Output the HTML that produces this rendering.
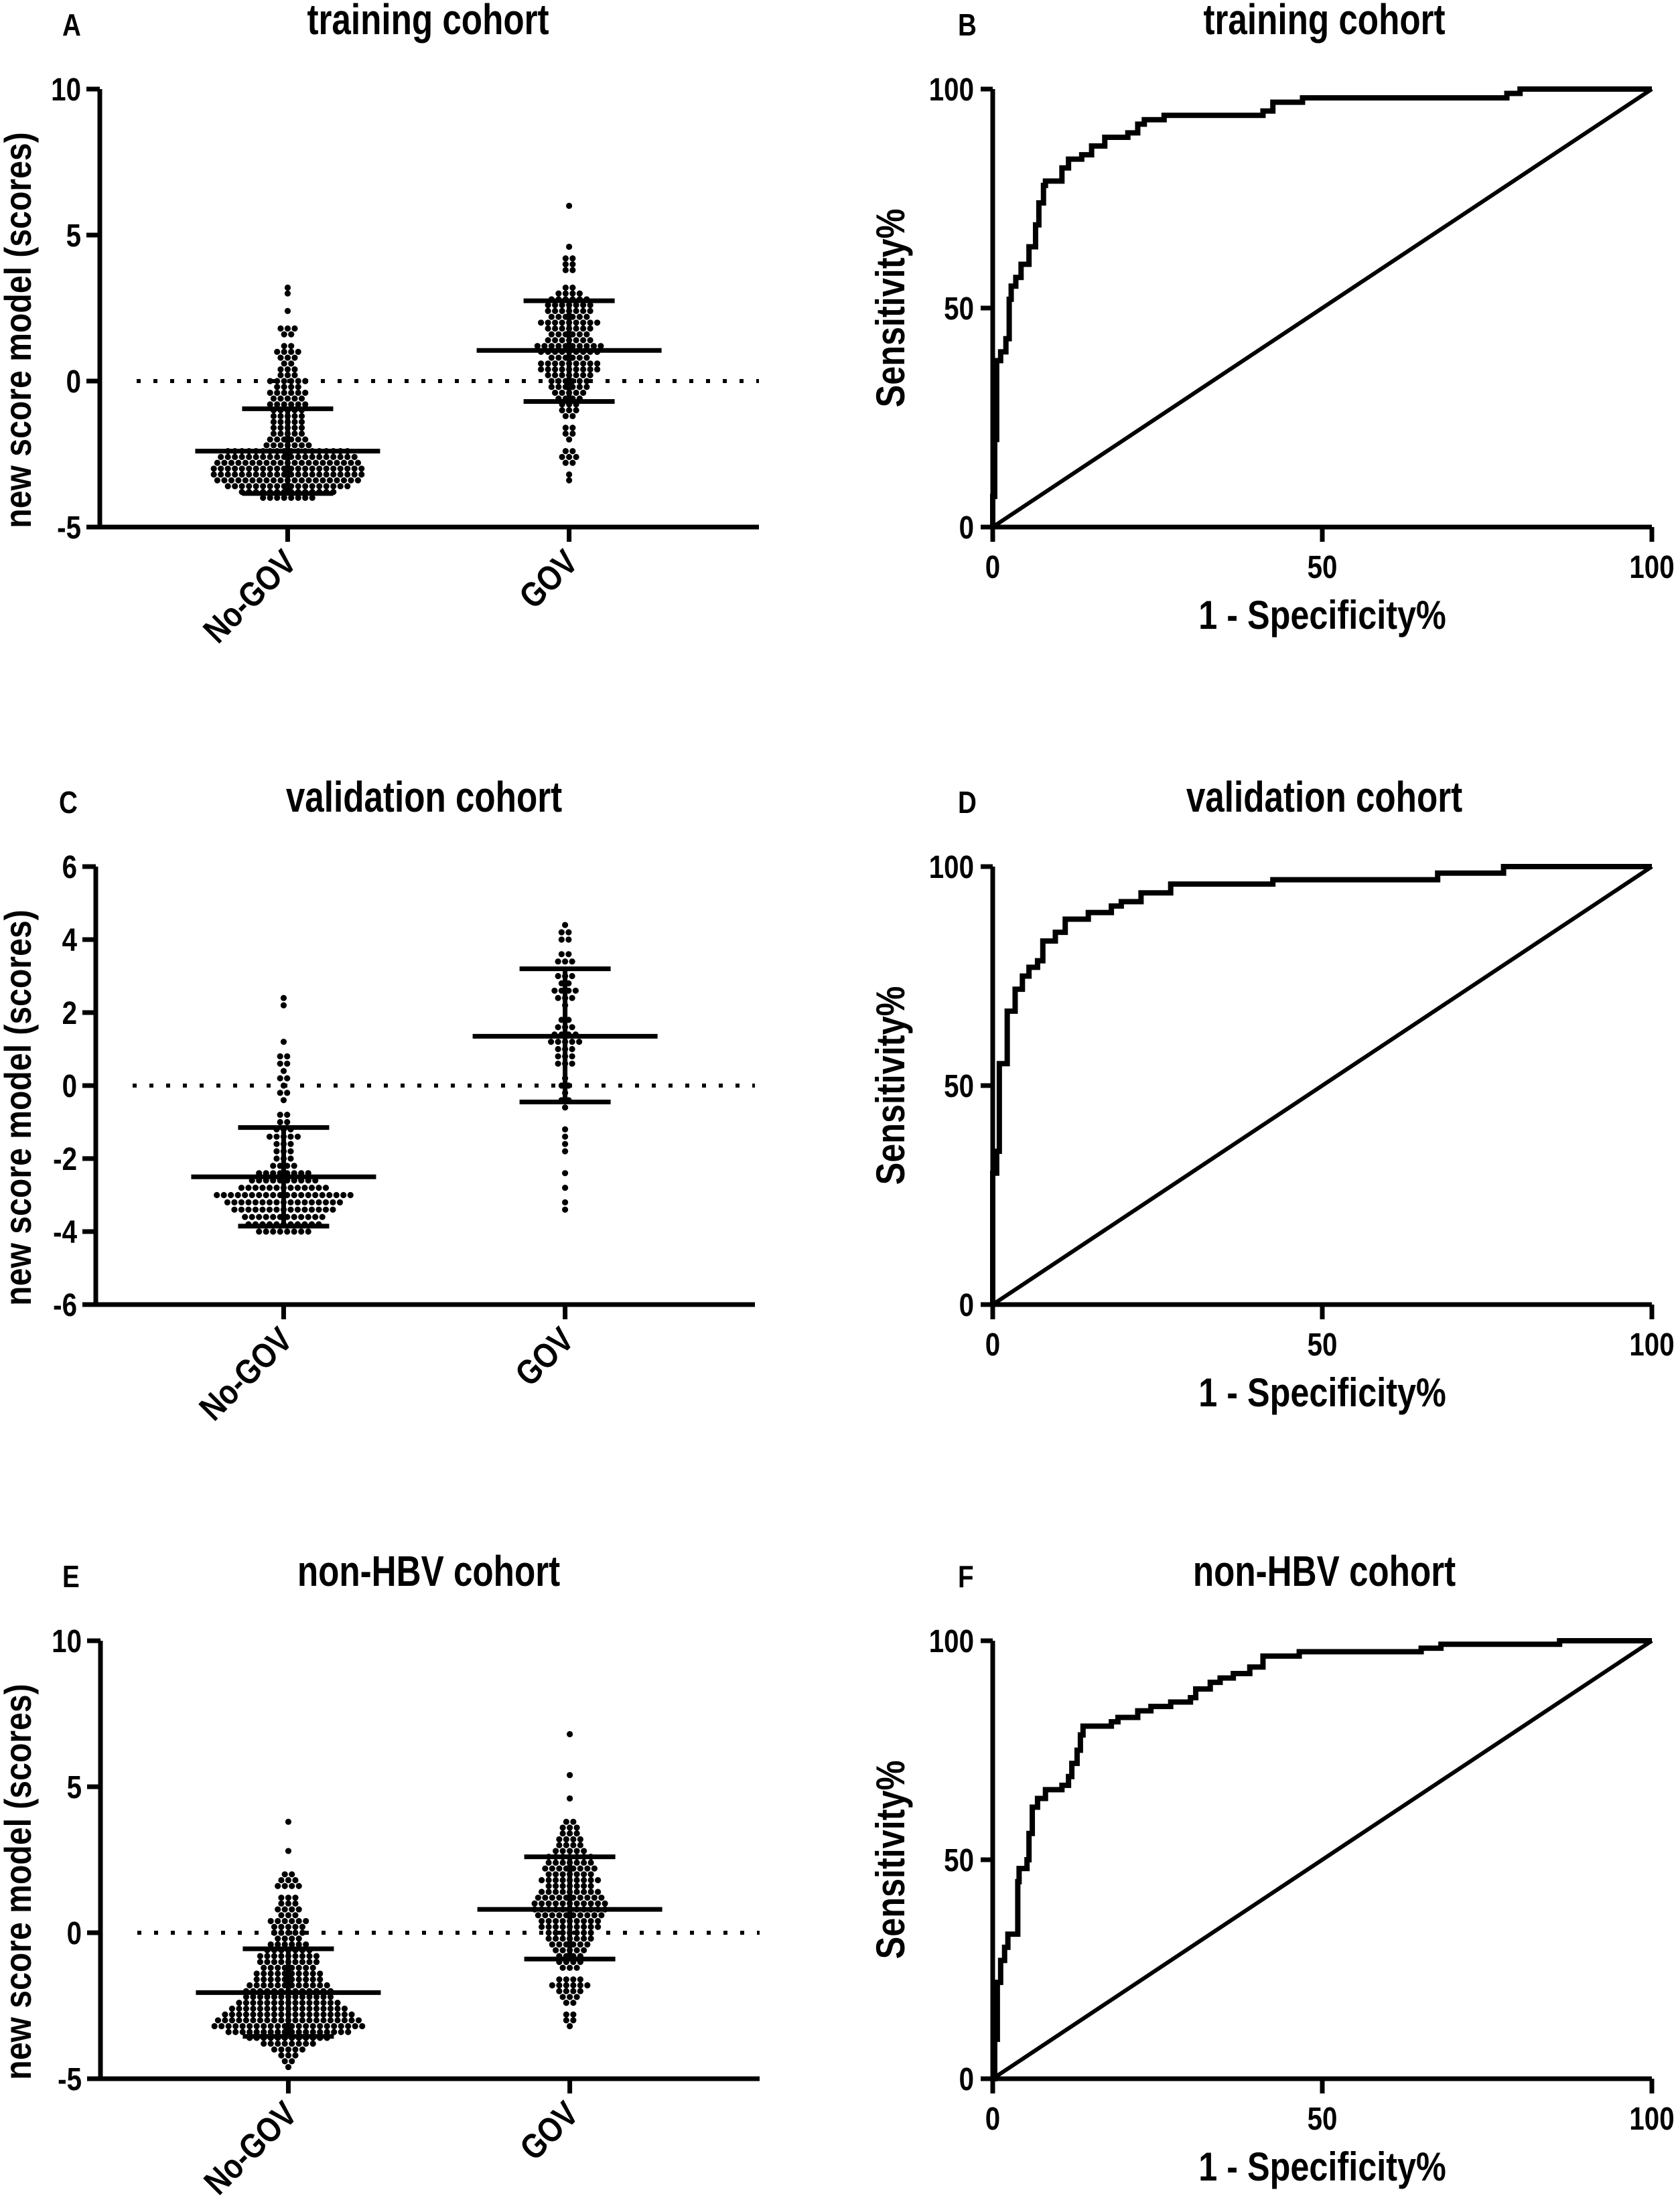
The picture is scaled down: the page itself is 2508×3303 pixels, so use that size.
<!DOCTYPE html>
<html><head><meta charset="utf-8"><style>
html,body{margin:0;padding:0;background:#fff}
svg{display:block}
text{font-family:"Liberation Sans",Arial,sans-serif;font-weight:bold;fill:#000}
</style></head><body>
<svg id="fig" width="2508" height="3303" viewBox="0 0 2508 3303" xmlns="http://www.w3.org/2000/svg"></svg>
<script>
// ---------- scatter data (bin centres, score units) and counts per bin ----------
const aNoBins=[3.2,3.0,2.4,1.8,1.6,1.2,1.0,0.8,0.6,0.4,0.2,0.0,-0.2,-0.4,-0.6,-0.8,-1.0,-1.2,-1.4,-1.6,-1.8,-2.0,-2.2,-2.4,-2.6,-2.8,-3.0,-3.2,-3.4,-3.6,-3.8,-4.0];
const aNoCounts=[1,1,1,3,2,2,4,3,2,3,3,6,4,6,5,6,5,5,5,5,5,6,7,18,20,21,22,22,21,18,14,8];
const aGovBins=[6.0,4.6,4.2,4.0,3.8,3.2,3.0,2.8,2.6,2.4,2.2,2.0,1.8,1.6,1.4,1.2,1.0,0.8,0.6,0.4,0.2,0.0,-0.2,-0.4,-0.6,-0.8,-1.0,-1.2,-1.6,-1.8,-2.0,-2.4,-2.6,-2.8,-3.2,-3.4];
const aGovCounts=[1,1,2,2,2,2,4,6,7,7,6,9,7,6,7,10,9,6,9,9,7,6,6,5,4,3,3,2,2,2,1,2,3,2,1,1];
const aStats={noMean:-2.4,noHi:-0.95,noLo:-3.85,govMean:1.05,govHi:2.75,govLo:-0.7};

const cNoBins=[2.4,2.2,1.2,0.8,0.6,0.4,0.2,0.0,-0.2,-0.4,-0.8,-1.0,-1.2,-1.4,-1.6,-1.8,-2.0,-2.2,-2.4,-2.6,-2.8,-3.0,-3.2,-3.4,-3.6,-3.8,-4.0];
const cNoCounts=[1,1,1,2,2,1,2,1,2,1,2,2,3,5,3,3,3,4,8,10,13,20,17,15,12,11,8];
const cGovBins=[4.4,4.2,4.0,3.6,3.4,3.0,2.8,2.6,2.4,2.2,1.8,1.6,1.4,1.2,1.0,0.8,0.6,0.2,0.0,-0.2,-0.4,-0.6,-1.2,-1.4,-1.6,-1.8,-2.4,-2.8,-3.2,-3.4];
const cGovCounts=[1,2,2,2,3,3,2,4,3,1,2,3,4,5,3,3,3,1,2,1,2,1,1,1,1,1,1,1,1,1];
const cStats={noMean:-2.5,noHi:-1.15,noLo:-3.85,govMean:1.35,govHi:3.2,govLo:-0.45};

const eNoBins=[3.8,2.8,2.0,1.8,1.6,1.2,1.0,0.8,0.6,0.4,0.2,0.0,-0.2,-0.4,-0.6,-0.8,-1.0,-1.2,-1.4,-1.6,-1.8,-2.0,-2.2,-2.4,-2.6,-2.8,-3.0,-3.2,-3.4,-3.6,-3.8,-4.0,-4.2,-4.4,-4.6];
const eNoCounts=[1,1,2,3,4,3,3,4,3,6,5,5,4,6,7,9,9,8,10,10,12,13,13,15,17,19,21,22,18,12,8,5,3,2,1];
const eGovBins=[6.8,5.4,4.6,3.8,3.6,3.4,3.2,3.0,2.8,2.6,2.4,2.2,2.0,1.8,1.6,1.4,1.2,1.0,0.8,0.6,0.4,0.2,0.0,-0.2,-0.4,-0.6,-0.8,-1.0,-1.2,-1.6,-1.8,-2.0,-2.2,-2.4,-2.8,-3.0,-3.2];
const eGovCounts=[1,1,1,2,3,3,4,4,5,7,7,8,7,9,7,9,10,11,11,10,9,9,7,7,6,5,4,4,3,4,6,4,3,2,2,2,1];
const eStats={noMean:-2.05,noHi:-0.55,noLo:-3.55,govMean:0.8,govHi:2.6,govLo:-0.9};

const categories=["No-GOV","GOV"];
const ticksAE=["-5","0","5","10"];
const ticksC=["-6","-4","-2","0","2","4","6"];
const rocTicks=["0","50","100"];

// ---------- ROC data (percent) ----------
const bFpr=[0,0,0.3,0.6,1.2,2,2.5,2.8,3.5,4.3,5.5,6.5,7,7.7,8,10.5,11.5,13.5,15,17,20.5,22,23,26,41,42.5,47,78,80,100];
const bTpr=[0,7,20,38,40,43,52,55,57,60,64,69,74,78,79,82,84,85,87,89,90,92,93,94,95,97,98,99,100,100];
const dFpr=[0,0,0.6,1,2.2,3.4,4.5,5.5,6.8,7.6,9.5,11,14.5,18,19.5,22.5,27,42.5,67.5,77.5,100];
const dTpr=[0,30,35,55,67,72,75,77,78.5,83,85,88,89.5,91,92,94,96,97,98.5,100,100];
const fFpr=[0,0,0.3,0.7,1.2,1.8,2.3,3.8,4,5.2,5.5,6,6.8,8,10.5,11.5,12,12.8,13.3,13.7,18,19,22,24,27,30,30.8,33,34.5,36.5,39,41,46.5,65,68,86,100];
const fTpr=[0,0,9,22,27,30,33,45,48,50,56,62,64,66,67,69,72,75,78.5,80.5,81.5,82.5,84,85,86,87,89,90.5,91.5,92.5,94,96.5,97.5,98.3,99.2,100,100];

const NS="http://www.w3.org/2000/svg";
const svg=document.getElementById('fig');
function mk(tag,attrs,parent){const e=document.createElementNS(NS,tag);for(const k in attrs)e.setAttribute(k,attrs[k]);(parent||svg).appendChild(e);return e;}
// condensed text: positioned via transform, squeezed horizontally
function ctext(str,x,y,size,anchor,rot,sx,parent){
  const t=mk('text',{x:0,y:0,'font-size':size,'text-anchor':anchor,transform:`translate(${x} ${y}) rotate(${rot}) scale(${sx} 1)`},parent);
  t.textContent=str;return t;
}

const PW=984, PH=654, SX=0.84;

function scatterPanel(o){
  const g=mk('g',{});
  
  
  const x0=o.x0,x1=o.x0+PW,yT=o.yTop,yB=o.yTop+PH;
  const ys=v=>yB-(v-o.ymin)/(o.ymax-o.ymin)*PH;
  const xs=i=>x0+PW*(0.285+i*0.427);
  const L=ctext(o.letter,o.letterX,yT-80,46,'start',0,SX,g);
  
  const T=ctext(o.title,x0+490,yT-82,64,'middle',0,0.8,g);
  
  const z=mk('line',{x1:x0+55,x2:x1,y1:ys(0),y2:ys(0),stroke:'#000','stroke-width':6,'stroke-dasharray':'6 19'},g);
  
  const groups=[[o.noBins,o.noCounts],[o.govBins,o.govCounts]];
  groups.forEach((gr,gi)=>{
    const dg=mk('g',{},g);
    
    
    gr[0].forEach((v,bi)=>{
      const n=gr[1][bi];
      for(let j=0;j<n;j++){
        const c=mk('circle',{cx:xs(gi)+(j-(n-1)/2)*10.5,cy:ys(v),r:4.6,fill:'#000'},dg);
        
        
      }
    });
  });
  const st=o.stats;
  [[0,st.noMean,st.noHi,st.noLo],[1,st.govMean,st.govHi,st.govLo]].forEach(s=>{
    const cx=xs(s[0]);
    const bg=mk('g',{stroke:'#000','stroke-width':7},g);
    
    
    mk('line',{x1:cx,x2:cx,y1:ys(s[2]),y2:ys(s[3])},bg);
    mk('line',{x1:cx-138,x2:cx+138,y1:ys(s[1]),y2:ys(s[1])},bg);
    mk('line',{x1:cx-68,x2:cx+68,y1:ys(s[2]),y2:ys(s[2])},bg);
    mk('line',{x1:cx-68,x2:cx+68,y1:ys(s[3]),y2:ys(s[3])},bg);
  });
  const ax=mk('path',{d:`M${x0},${yT} V${yB} H${x1}`,fill:'none',stroke:'#000','stroke-width':7},g);
  
  o.ticks.forEach(t=>{
    const y=ys(parseFloat(t));
    mk('line',{x1:x0-20,x2:x0,y1:y,y2:y,stroke:'#000','stroke-width':7},g);
    const tl=ctext(t,x0-28,y+17,48,'end',0,SX,g);
    
  });
  categories.forEach((c,i)=>{
    const x=xs(i);
    mk('line',{x1:x,x2:x,y1:yB,y2:yB+22,stroke:'#000','stroke-width':7},g);
    const cl=ctext(c,x+16,yB+56,52,'end',-45,SX,g);
    
  });
  const yl=ctext('new score model (scores)',46,yT+360,56,'middle',-90,0.86,g);
  
}

function rocPanel(o){
  const g=mk('g',{});
  
  
  const x0=o.x0,x1=o.x0+PW,yT=o.yTop,yB=o.yTop+PH;
  const xs=v=>x0+v/100*PW, ys=v=>yB-v/100*PH;
  const L=ctext(o.letter,1430,yT-80,46,'start',0,SX,g);
  
  const T=ctext(o.title,x0+495,yT-82,64,'middle',0,0.8,g);
  
  const dg=mk('line',{x1:xs(0),y1:ys(0),x2:xs(100),y2:ys(100),stroke:'#000','stroke-width':6},g);
  
  let d=`M${xs(o.fpr[0])},${ys(o.tpr[0])}`;
  for(let i=1;i<o.fpr.length;i++){d+=` H${xs(o.fpr[i])} V${ys(o.tpr[i])}`;}
  const c=mk('path',{d:d,fill:'none',stroke:'#000','stroke-width':8},g);
  
  const ax=mk('path',{d:`M${x0},${yT} V${yB} H${x1}`,fill:'none',stroke:'#000','stroke-width':7},g);
  
  rocTicks.forEach(t=>{
    const v=parseFloat(t);
    mk('line',{x1:x0-18,x2:x0,y1:ys(v),y2:ys(v),stroke:'#000','stroke-width':7},g);
    const yl=ctext(t,x0-28,ys(v)+17,48,'end',0,SX,g);
    
    mk('line',{x1:xs(v),x2:xs(v),y1:yB,y2:yB+22,stroke:'#000','stroke-width':7},g);
    const xl=ctext(t,xs(v),yB+76,48,'middle',0,SX,g);
    
  });
  const xt=ctext('1 - Specificity%',x0+492,yB+152,60,'middle',0,0.84,g);
  
  const yt=ctext('Sensitivity%',1350,yT+327,60,'middle',-90,0.84,g);
  
}

scatterPanel({name:'panel-a-training-scatter',letter:'A',letterX:93,title:'training cohort',x0:149,yTop:133,ymin:-5,ymax:10,ticks:ticksAE,noBins:aNoBins,noCounts:aNoCounts,govBins:aGovBins,govCounts:aGovCounts,stats:aStats});
scatterPanel({name:'panel-c-validation-scatter',letter:'C',letterX:88,title:'validation cohort',x0:143,yTop:1294,ymin:-6,ymax:6,ticks:ticksC,noBins:cNoBins,noCounts:cNoCounts,govBins:cGovBins,govCounts:cGovCounts,stats:cStats});
scatterPanel({name:'panel-e-nonhbv-scatter',letter:'E',letterX:93,title:'non-HBV cohort',x0:150,yTop:2450,ymin:-5,ymax:10,ticks:ticksAE,noBins:eNoBins,noCounts:eNoCounts,govBins:eGovBins,govCounts:eGovCounts,stats:eStats});
rocPanel({name:'panel-b-training-roc',letter:'B',title:'training cohort',x0:1482,yTop:133,fpr:bFpr,tpr:bTpr});
rocPanel({name:'panel-d-validation-roc',letter:'D',title:'validation cohort',x0:1482,yTop:1294,fpr:dFpr,tpr:dTpr});
rocPanel({name:'panel-f-nonhbv-roc',letter:'F',title:'non-HBV cohort',x0:1482,yTop:2450,fpr:fFpr,tpr:fTpr});
</script>
</body></html>
